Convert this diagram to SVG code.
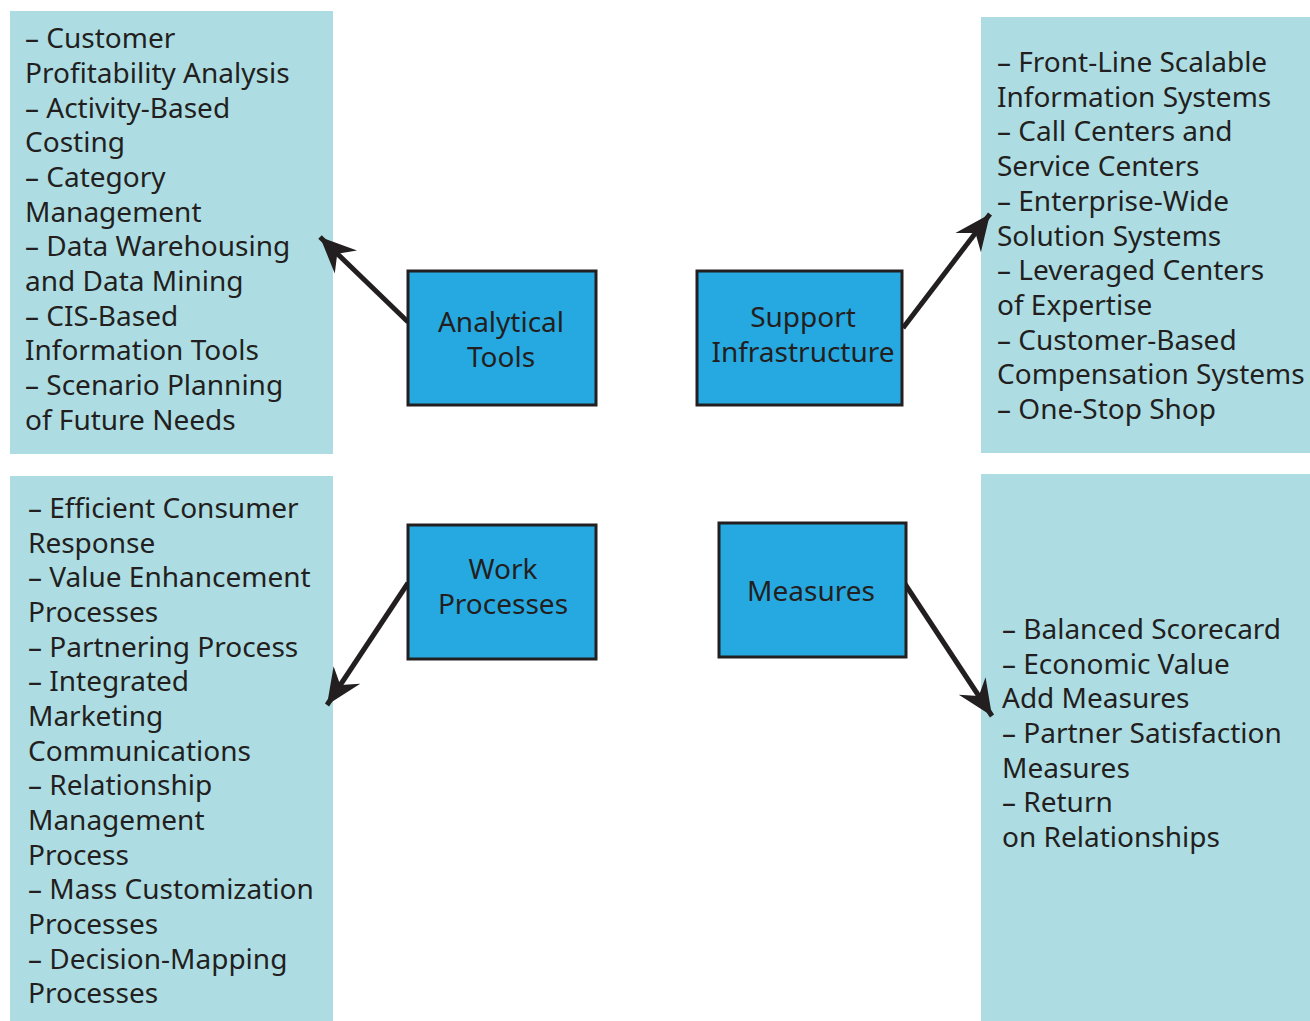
<svg xmlns="http://www.w3.org/2000/svg" width="1310" height="1021" viewBox="0 0 1310 1021">
<style>
.panel{fill:#ADDDE3}
.node{fill:#25A9E0;stroke:#231F20;stroke-width:3}
text{font-family:"Noto Sans",Lato,sans-serif;font-size:28px;fill:#231F20}
.c{text-anchor:middle}
.conn{stroke:#231F20;stroke-width:5;fill:none}
</style>
<defs>
<marker id="ah" markerUnits="userSpaceOnUse" viewBox="-38 -18 40 36" refX="0" refY="0" markerWidth="40" markerHeight="36" orient="auto">
<path d="M0,0 L-36,-16 L-24,0 L-36,16 Z" fill="#231F20"/>
</marker>
</defs>
<rect width="1310" height="1021" fill="#fff"/>
<g id="panel-analytical">
<rect class="panel" x="10" y="11" width="323" height="443"/>
<text x="25" y="48">– Customer</text>
<text x="25" y="83">Profitability Analysis</text>
<text x="25" y="118">– Activity-Based</text>
<text x="25" y="152">Costing</text>
<text x="25" y="187">– Category</text>
<text x="25" y="222">Management</text>
<text x="25" y="256">– Data Warehousing</text>
<text x="25" y="291">and Data Mining</text>
<text x="25" y="326">– CIS-Based</text>
<text x="25" y="360">Information Tools</text>
<text x="25" y="395">– Scenario Planning</text>
<text x="25" y="430">of Future Needs</text>
</g>
<g id="panel-support">
<rect class="panel" x="981" y="17" width="329" height="436"/>
<text x="997" y="72">– Front-Line Scalable</text>
<text x="997" y="107">Information Systems</text>
<text x="997" y="141">– Call Centers and</text>
<text x="997" y="176">Service Centers</text>
<text x="997" y="211">– Enterprise-Wide</text>
<text x="997" y="246">Solution Systems</text>
<text x="997" y="280">– Leveraged Centers</text>
<text x="997" y="315">of Expertise</text>
<text x="997" y="350">– Customer-Based</text>
<text x="997" y="384">Compensation Systems</text>
<text x="997" y="419">– One-Stop Shop</text>
</g>
<g id="panel-work">
<rect class="panel" x="10" y="476" width="323" height="545"/>
<text x="28" y="518">– Efficient Consumer</text>
<text x="28" y="553">Response</text>
<text x="28" y="587">– Value Enhancement</text>
<text x="28" y="622">Processes</text>
<text x="28" y="657">– Partnering Process</text>
<text x="28" y="691">– Integrated</text>
<text x="28" y="726">Marketing</text>
<text x="28" y="761">Communications</text>
<text x="28" y="795">– Relationship</text>
<text x="28" y="830">Management</text>
<text x="28" y="865">Process</text>
<text x="28" y="899">– Mass Customization</text>
<text x="28" y="934">Processes</text>
<text x="28" y="969">– Decision-Mapping</text>
<text x="28" y="1003">Processes</text>
</g>
<g id="panel-measures">
<rect class="panel" x="981" y="474" width="329" height="547"/>
<text x="1002" y="639">– Balanced Scorecard</text>
<text x="1002" y="674">– Economic Value</text>
<text x="1002" y="708">Add Measures</text>
<text x="1002" y="743">– Partner Satisfaction</text>
<text x="1002" y="778">Measures</text>
<text x="1002" y="812">– Return</text>
<text x="1002" y="847">on Relationships</text>
</g>
<g id="connectors">
<line class="conn" x1="408" y1="322" x2="320" y2="237" marker-end="url(#ah)"/>
<line class="conn" x1="903" y1="328" x2="990" y2="214" marker-end="url(#ah)"/>
<line class="conn" x1="408" y1="583" x2="327" y2="705" marker-end="url(#ah)"/>
<line class="conn" x1="905" y1="584" x2="992" y2="716" marker-end="url(#ah)"/>
</g>
<g id="node-analytical">
<rect class="node" x="408" y="271" width="188" height="134"/>
<text class="c" x="501" y="332">Analytical</text>
<text class="c" x="501" y="367">Tools</text>
</g>
<g id="node-support">
<rect class="node" x="697" y="271" width="205" height="134"/>
<text class="c" x="803" y="327">Support</text>
<text class="c" x="803" y="362">Infrastructure</text>
</g>
<g id="node-work">
<rect class="node" x="408" y="525" width="188" height="134"/>
<text class="c" x="503" y="579">Work</text>
<text class="c" x="503" y="614">Processes</text>
</g>
<g id="node-measures">
<rect class="node" x="719" y="523" width="187" height="134"/>
<text class="c" x="811" y="601">Measures</text>
</g>
</svg>
